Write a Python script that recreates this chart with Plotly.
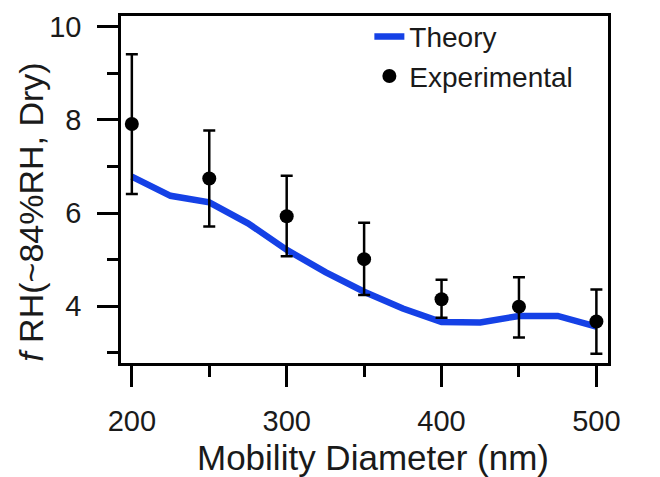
import plotly.graph_objects as go

theory_x = [200, 225, 250, 275, 300, 325, 350, 375, 400, 425, 450, 475, 500]
theory_y = [6.78, 6.37, 6.23, 5.78, 5.21, 4.73, 4.31, 3.95, 3.66, 3.65, 3.79, 3.79, 3.56]

exp_x = [200, 250, 300, 350, 400, 450, 500]
exp_y = [7.91, 6.74, 5.93, 5.01, 4.15, 3.99, 3.67]
exp_hi = [9.41, 7.77, 6.80, 5.79, 4.57, 4.62, 4.36]
exp_lo = [6.41, 5.71, 5.07, 4.24, 3.75, 3.33, 2.98]

x_title = "Mobility Diameter (nm)"
y_title = "<i>f</i> RH(~84%RH, Dry)"

err_plus = [h - y for h, y in zip(exp_hi, exp_y)]
err_minus = [y - l for l, y in zip(exp_lo, exp_y)]

FONT = "Liberation Sans, Arial, sans-serif"
TXT = "#1a1a1a"

fig = go.Figure()
fig.add_trace(go.Scatter(
    x=theory_x, y=theory_y, mode="lines", name="Theory",
    line=dict(color="#1541e6", width=6.5),
))
fig.add_trace(go.Scatter(
    x=exp_x, y=exp_y, mode="markers", name="Experimental",
    marker=dict(color="black", size=14),
    error_y=dict(type="data", symmetric=False, array=err_plus, arrayminus=err_minus,
                 color="black", thickness=2.5, width=6),
))

axis_common = dict(
    showline=True, linecolor="black", linewidth=2.5, mirror=True,
    ticks="outside", ticklen=21, tickwidth=2.5, tickcolor="black",
    showgrid=False, zeroline=False,
    tickfont=dict(family=FONT, size=29, color=TXT),
)

fig.update_xaxes(
    range=[193, 507.5], tickmode="linear", tick0=200, dtick=100,
    minor=dict(dtick=50, tick0=200, ticks="outside", ticklen=11, tickwidth=2.5, tickcolor="black"),
    ticklabelstandoff=9,
    **axis_common,
)
fig.update_yaxes(
    range=[2.78, 10.23], tickmode="linear", tick0=0, dtick=2,
    minor=dict(dtick=1, tick0=0, ticks="outside", ticklen=11, tickwidth=2.5, tickcolor="black"),
    ticklabelstandoff=10,
    **axis_common,
)

fig.add_annotation(text=x_title, xref="paper", yref="paper", x=0.517, y=-0.272,
                   xanchor="center", yanchor="middle", showarrow=False,
                   font=dict(family=FONT, size=35, color=TXT))
fig.add_annotation(text=y_title, xref="paper", yref="paper", x=-0.185, y=0.4355,
                   xanchor="center", yanchor="middle", showarrow=False, textangle=-90,
                   font=dict(family=FONT, size=34, color=TXT))

fig.update_layout(
    width=660, height=477,
    margin=dict(l=121, r=52, t=14, b=114),
    plot_bgcolor="white", paper_bgcolor="white",
    showlegend=True,
    legend=dict(x=0.51, y=1.012, xanchor="left", yanchor="top",
                font=dict(family=FONT, size=28, color=TXT),
                bgcolor="rgba(0,0,0,0)", tracegroupgap=0, itemwidth=30),
)

fig.write_html("out.html")
